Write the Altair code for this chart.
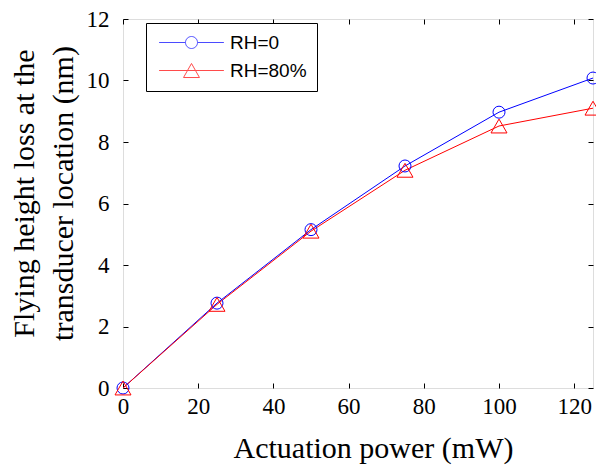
import altair as alt
import pandas as pd

power = [0, 25, 50, 75, 100, 125]
rh0 = [0.0, 2.76, 5.15, 7.22, 8.97, 10.08]
rh80 = [0.0, 2.72, 5.10, 7.08, 8.52, 9.10]
series_names = ["RH=0", "RH=80%"]
x_ticks = [0, 20, 40, 60, 80, 100, 120]
y_ticks = [0, 2, 4, 6, 8, 10, 12]

rows = []
for name, vals in zip(series_names, [rh0, rh80]):
    for p, v in zip(power, vals):
        rows.append({"power": p, "loss": v, "series": name})
df = pd.DataFrame(rows)

colors = ["#0000ff", "#ff0000"]
legend_paths = [
    "M-5.4,0L-1,0M1,0L5.4,0M1,0A1,1,0,1,1,-1,0A1,1,0,1,1,1,0Z",
    "M-5.4,0L5.4,0M0,-1.17L1.33,1.17L-1.33,1.17Z",
]

serif = "Liberation Serif"

xscale = alt.Scale(domain=[0, 125], nice=False, zero=False)
yscale = alt.Scale(domain=[0, 12], nice=False)

x_bottom = alt.X(
    "power:Q", scale=xscale,
    axis=alt.Axis(
        orient="bottom", values=x_ticks, title="Actuation power (mW)",
        offset=-5, tickSize=5, tickWidth=1, domain=False, grid=False,
        tickColor="black", labelFont=serif, labelFontSize=23, labelColor="black",
        labelPadding=7, labelFlush=False,
        titleFont=serif, titleFontSize=30, titleFontWeight="normal", titleColor="black",
        titleX=250, titleY=74, titleAlign="center", titleBaseline="alphabetic",
    ),
)
y_left = alt.Y(
    "loss:Q", scale=yscale,
    axis=alt.Axis(
        orient="left", values=y_ticks,
        title=["Flying height loss at the", "transducer location (nm)"],
        offset=-5, tickSize=5, tickWidth=1, domain=False, grid=False,
        tickColor="black", labelFont=serif, labelFontSize=23, labelColor="black",
        labelPadding=14, labelFlush=False, labelBaseline="middle",
        titleFont=serif, titleFontSize=30, titleFontWeight="normal", titleColor="black",
        titleAngle=270, titleX=-104, titleY=174, titleAlign="center",
        titleBaseline="middle", titleLineHeight=39,
    ),
)

def color_enc(legend=None):
    return alt.Color("series:N", scale=alt.Scale(domain=series_names, range=colors), legend=legend)

lines = alt.Chart(df).mark_line(strokeWidth=1, clip=False).encode(
    x=x_bottom, y=y_left, color=color_enc(), order="power:Q"
)

points = alt.Chart(df).mark_point(filled=False, strokeWidth=1, opacity=1, clip=False).encode(
    x=alt.X("power:Q", scale=xscale,
            axis=alt.Axis(orient="top", values=x_ticks, labels=False, title=None,
                          offset=-5, tickSize=5, tickWidth=1, domain=False, grid=False, tickColor="black")),
    y=alt.Y("loss:Q", scale=yscale,
            axis=alt.Axis(orient="right", values=y_ticks, labels=False, title=None,
                          offset=-5, tickSize=5, tickWidth=1, domain=False, grid=False, tickColor="black")),
    color=color_enc(),
    shape=alt.Shape("series:N", scale=alt.Scale(domain=series_names, range=["circle", "triangle-up"]), legend=None),
    size=alt.Size("series:N", scale=alt.Scale(domain=series_names, range=[144, 256]), legend=None),
)

legend_props = dict(
    title=None, orient="none", legendX=23, legendY=4,
    strokeColor="black", fillColor="white",
    padding=10, rowPadding=8, symbolSize=144, symbolStrokeWidth=1,
    symbolOffset=26, labelOffset=29,
    labelFont="Liberation Sans", labelFontSize=19, labelColor="black",
    symbolFillColor="transparent",
)

legend_layer = alt.Chart(df).transform_filter("false").mark_point(filled=False, strokeWidth=1).encode(
    x=alt.X("power:Q", scale=xscale, axis=None),
    y=alt.Y("loss:Q", scale=yscale, axis=None),
    color=color_enc(alt.Legend(**legend_props)),
    shape=alt.Shape("series:N", scale=alt.Scale(domain=series_names, range=legend_paths),
                    legend=alt.Legend(**legend_props)),
)

chart = alt.layer(lines, points, legend_layer).resolve_scale(
    shape="independent", color="independent"
).resolve_axis(
    x="independent", y="independent"
).properties(
    width=470, height=369,
    autosize=alt.AutoSizeParams(type="none"),
    padding={"left": 123, "top": 19, "right": 3, "bottom": 81},
).configure_view(
    stroke="black", strokeWidth=1
).configure_legend(
    strokeWidth=1,
).configure(background="white")

chart.save("out.html", embed_options={"renderer": "svg", "actions": False})
